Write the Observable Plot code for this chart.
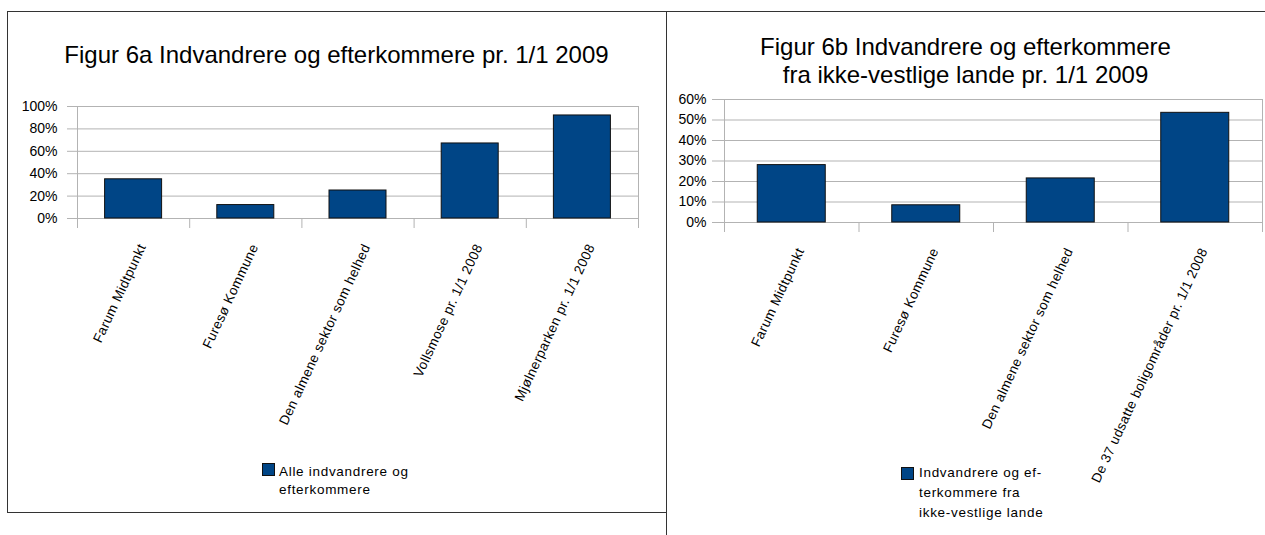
<!DOCTYPE html>
<html>
<head>
<meta charset="utf-8">
<script src="https://cdn.jsdelivr.net/npm/d3@7"></script>
<script src="https://cdn.jsdelivr.net/npm/@observablehq/plot@0.6"></script>
<style>
  html, body { margin: 0; padding: 0; background: #fff; }
  #root { position: relative; width: 1265px; height: 535px; overflow: hidden;
          font-family: "Liberation Sans", Arial, sans-serif; color: #000; background: #fff; }
  .abs { position: absolute; }
  .title { font-size: 24px; line-height: 28px; text-align: center; white-space: nowrap; }
  .legtext { font-size: 13.5px; letter-spacing: 0.7px; white-space: nowrap; }
  .swatch { width: 11px; height: 11px; border: 1px solid #111; background: #004586; }
  svg.chart g[aria-label="text"] text { letter-spacing: 0.4px; }
</style>
</head>
<body>
<div id="root"></div>
<script>
// ---------- data ----------
const titleA = "Figur 6a Indvandrere og efterkommere pr. 1/1 2009";
const categoriesA = ["Farum Midtpunkt", "Furesø Kommune", "Den almene sektor som helhed", "Vollsmose pr. 1/1 2008", "Mjølnerparken pr. 1/1 2008"];
const valuesA = [0.35, 0.12, 0.25, 0.67, 0.92];
const ticksA = [0, 0.2, 0.4, 0.6, 0.8, 1.0];
const legendA = ["Alle indvandrere og", "efterkommere"];

const titleB = ["Figur 6b Indvandrere og efterkommere", "fra ikke-vestlige lande pr. 1/1 2009"];
const categoriesB = ["Farum Midtpunkt", "Furesø Kommune", "Den almene sektor som helhed", "De 37 udsatte boligområder pr. 1/1 2008"];
const valuesB = [0.28, 0.084, 0.215, 0.535];
const ticksB = [0, 0.1, 0.2, 0.3, 0.4, 0.5, 0.6];
const legendB = ["Indvandrere og ef-", "terkommere fra", "ikke-vestlige lande"];

// ---------- styling ----------
const BLUE = "#004586";
const GRID = "#b3b3b3";
const FONT = "'Liberation Sans', Arial, sans-serif";

function barChart(o) {
  const data = o.cats.map((c, i) => ({c, v: o.vals[i]}));
  const bw = (o.width - o.mL - o.mR) / o.cats.length;
  const inset = (bw - o.barW) / 2;
  const yMax = o.ticks[o.ticks.length - 1];
  const fmt = d3.format(".0%");
  return Plot.plot({
    width: o.width, height: o.height,
    marginLeft: o.mL, marginRight: o.mR, marginTop: o.mT, marginBottom: o.mB,
    className: "chart",
    style: {fontFamily: FONT, fontSize: "14px", color: "#000", background: "transparent", overflow: "visible"},
    x: {domain: o.cats, padding: 0, round: false, axis: null},
    y: {domain: [0, yMax], axis: null},
    marks: [
      Plot.ruleY(o.ticks, {stroke: GRID, strokeWidth: 1, insetLeft: -o.tickLen}),
      Plot.axisY(o.ticks, {tickSize: 0, tickPadding: o.tickLen + o.tickPad, tickFormat: fmt, fontSize: 14, label: null}),
      Plot.ruleX(o.cats, {x: d => d, y1: () => 0, y2: () => 0, insetBottom: -10, dx: -bw / 2, stroke: GRID}),
      Plot.ruleX([o.cats[0]], {x: d => d, y1: () => yMax, y2: () => 0, insetBottom: -10, dx: -bw / 2, stroke: GRID}),
      Plot.ruleX([o.cats[o.cats.length - 1]], {x: d => d, y1: () => yMax, y2: () => 0, insetBottom: -10, dx: bw / 2, stroke: GRID}),
      Plot.barY(data, {x: "c", y: "v", fill: BLUE, stroke: "#111", strokeWidth: 1, insetLeft: inset, insetRight: inset}),
      Plot.text(o.cats, {x: d => d, y: () => 0, text: d => d, rotate: o.rot, textAnchor: "end", lineAnchor: "top",
                         dx: o.ldx, dy: o.ldy, fontSize: 13.5, fill: "#000"})
    ]
  });
}

const root = document.getElementById("root");
function addDiv(cls, css, html) {
  const d = document.createElement("div");
  d.className = "abs " + cls;
  Object.assign(d.style, css);
  if (html != null) d.innerHTML = html;
  root.appendChild(d);
  return d;
}

// frames
addDiv("", {left: "7px", top: "11px", width: "658px", height: "500px", border: "1px solid #333"});
addDiv("", {left: "666px", top: "11px", width: "610px", height: "540px", borderTop: "1px solid #333", borderLeft: "1px solid #333"});

// chart A
const svgA = barChart({cats: categoriesA, vals: valuesA, ticks: ticksA, width: 666, height: 512,
  mL: 77, mR: 28, mT: 106, mB: 294, tickLen: 10, tickPad: 10, barW: 57, rot: -65, ldx: 4, ldy: 24});
svgA.style.position = "absolute"; svgA.style.left = "0px"; svgA.style.top = "0px";
root.appendChild(svgA);

// chart B
const svgB = barChart({cats: categoriesB, vals: valuesB, ticks: ticksB, width: 599, height: 535,
  mL: 58, mR: 3, mT: 99, mB: 313, tickLen: 12, tickPad: 6, barW: 68, rot: -65, ldx: 4, ldy: 24});
svgB.style.position = "absolute"; svgB.style.left = "666px"; svgB.style.top = "0px";
root.appendChild(svgB);

// titles
addDiv("title", {left: "7px", width: "659px", top: "41px"}, titleA);
addDiv("title", {left: "666px", width: "599px", top: "33px"}, titleB.join("<br>"));

// legends
addDiv("swatch", {left: "262px", top: "463px"});
addDiv("legtext", {left: "279px", top: "463px", lineHeight: "18px"}, legendA.join("<br>"));
addDiv("swatch", {left: "901px", top: "467px"});
addDiv("legtext", {left: "919px", top: "463px", lineHeight: "20px"}, legendB.join("<br>"));
</script>
</body>
</html>
